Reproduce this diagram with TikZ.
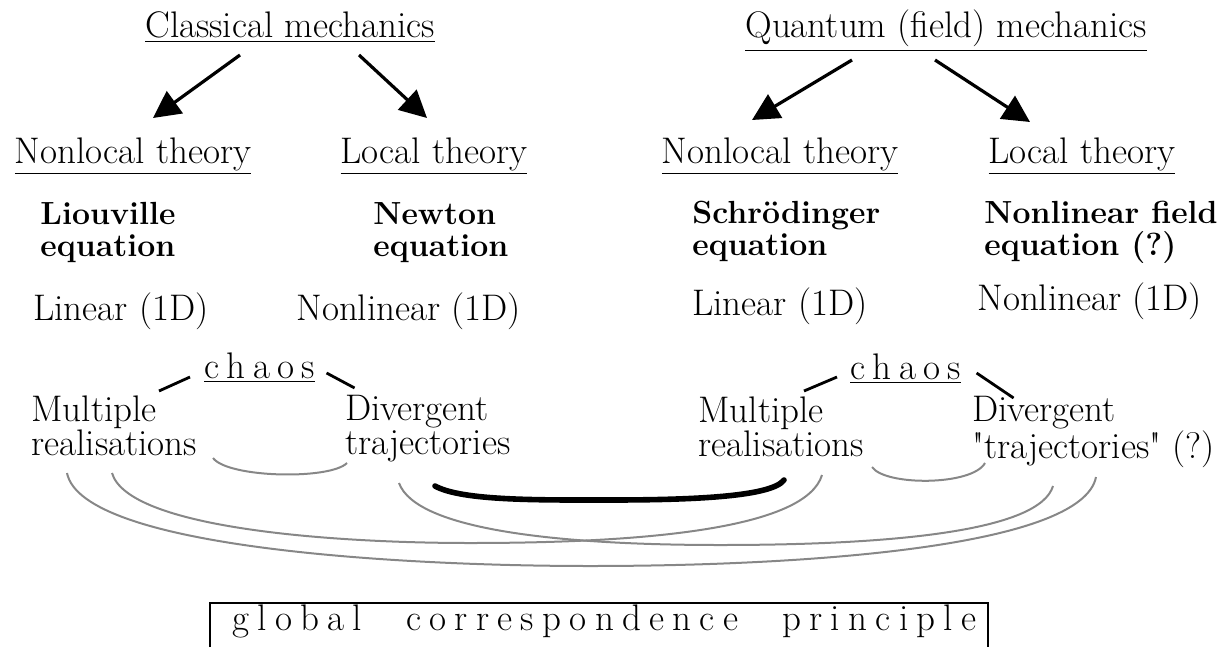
\documentclass[tikz,border=0pt]{standalone}
\usetikzlibrary{arrows.meta}

\newcommand{\chaosword}{\underline{\spaceskip=3.7pt c h a o s}}
\newcommand{\straightquote}{\XeTeXglyph\XeTeXcharglyph"22\relax}

\begin{document}
\begin{tikzpicture}[x=0.5pt,y=-0.5pt,
    txt/.style={font=\fontsize{18.5}{17}\selectfont,inner sep=0pt},
    eqn/.style={txt,font=\fontsize{16}{16}\selectfont\bfseries,align=left,anchor=north west},
    pair/.style={txt,align=left,anchor=north west},
    bigarrow/.style={line width=1.6pt,-{Triangle[length=13.5pt,width=13.5pt]}},
    tick/.style={line width=1.4pt},
    link/.style={black!47,line width=1pt},
    strong/.style={line width=2.8pt,line cap=round}]
  \useasboundingbox (0,0) rectangle (1229,647);

  % headings
  \node[txt,anchor=base] (classical) at (290,38) {\underline{Classical mechanics}};
  \node[txt,anchor=base] (quantum) at (946,38) {\underline{Quantum (field) mechanics}};

  \node[txt,anchor=base] (nonlocC) at (133,163) {\underline{Nonlocal theory}};
  \node[txt,anchor=base] (locC) at (434,163) {\underline{Local theory}};
  \node[txt,anchor=base] (nonlocQ) at (780,163) {\underline{Nonlocal theory}};
  \node[txt,anchor=base] (locQ) at (1082,163) {\underline{Local theory}};

  \draw[bigarrow] ([shift={(-50,17)}]classical.base) -- ([shift={(20,-45)}]nonlocC.base);
  \draw[bigarrow] ([shift={(69,17)}]classical.base) -- ([shift={(-7,-45)}]locC.base);
  \draw[bigarrow] ([shift={(-94,22)}]quantum.base) -- ([shift={(-28,-43)}]nonlocQ.base);
  \draw[bigarrow] ([shift={(-11,22)}]quantum.base) -- ([shift={(-52,-41)}]locQ.base);

  % equations
  \node[eqn] (liouville) at (40,202) {Liouville\\equation};
  \node[eqn] (newton) at (373,202) {Newton\\equation};
  \node[eqn] (schrod) at (692,201) {Schrödinger\\equation};
  \node[eqn] (nlfield) at (984,201) {Nonlinear field\\equation (?)};

  \node[txt,anchor=base west] (linC) at (33,320) {Linear (1D)};
  \node[txt,anchor=base west] (nonlinC) at (296,320) {Nonlinear (1D)};
  \node[txt,anchor=base west] (linQ) at (692,315) {Linear (1D)};
  \node[txt,anchor=base west] (nonlinQ) at (977,310) {Nonlinear (1D)};

  % chaos
  \node[txt,anchor=base west] (chaosC) at (204,378) {\chaosword};
  \node[txt,anchor=base west] (chaosQ) at (850,379) {\chaosword};

  \node[pair] (multC) at (31,395) {Multiple\\realisations};
  \node[pair] (divC) at (345,395) {Divergent\\trajectories};
  \node[pair] (multQ) at (698,396) {Multiple\\realisations};
  \node[pair] (divQ) at (972,396) {Divergent\\{\straightquote}trajectories{\straightquote} (?)};

  \draw[tick] ([shift={(-14,-1)}]chaosC.base west) -- ([shift={(-45,13)}]chaosC.base west);
  \draw[tick] ([shift={(11,-5)}]chaosC.base east) -- ([shift={(39,10)}]chaosC.base east);
  \draw[tick] ([shift={(-13,-2)}]chaosQ.base west) -- ([shift={(-46,12)}]chaosQ.base west);
  \draw[tick] ([shift={(15,-6)}]chaosQ.base east) -- ([shift={(52,19)}]chaosQ.base east);

  % links
  \coordinate (mc1) at (67,473);
  \coordinate (mc2) at (112,473);
  \coordinate (mc3) at (213,458);
  \coordinate (dc1) at (347,463);
  \coordinate (dc2) at (399,483);
  \coordinate (dc3) at (435,486);
  \coordinate (mq1) at (784,480);
  \coordinate (mq2) at (822,475);
  \coordinate (mq3) at (872,467);
  \coordinate (dq1) at (985,463);
  \coordinate (dq2) at (1053,486);
  \coordinate (dq3) at (1096,477);

  \draw[link] (mc3) .. controls (228,478) and (330,480) .. (dc1);
  \draw[link] (mq3) .. controls (885,486) and (972,486) .. (dq1);
  \draw[link] (mc1) .. controls (82,548) and (400,566) .. (590,566)
    .. controls (800,566) and (1082,548) .. (dq3);
  \draw[link] (mc2) .. controls (128,528) and (330,543) .. (470,543)
    .. controls (650,543) and (806,528) .. (mq2);
  \draw[link] (dc2) .. controls (416,530) and (560,545) .. (720,545)
    .. controls (900,545) and (1040,530) .. (dq2);
  \draw[strong] (dc3) .. controls (462,501) and (540,500) .. (610,500)
    .. controls (700,500) and (772,496) .. (mq1);

  % principle
  \draw[line width=0.8pt] (210,647) |- (988,603) -- (988,647);
  \node[txt,anchor=base west] (principle) at (232,630)
    {\spaceskip=4.15pt g l o b a l\hspace{22pt}c o r r e s p o n d e n c e\hspace{22pt}p r i n c i p l e};
\end{tikzpicture}
\end{document}
